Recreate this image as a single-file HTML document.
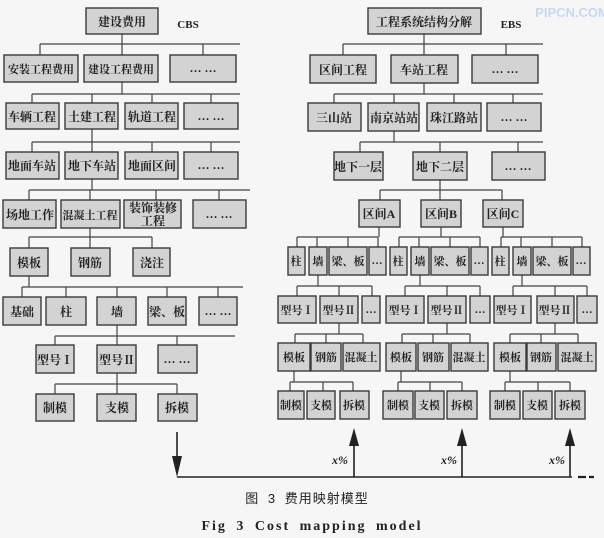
<!DOCTYPE html>
<html><head><meta charset="utf-8"><style>
html,body{margin:0;padding:0;background:#f6f6f6;}
svg{display:block}
.b{fill:#d3d3d3;stroke:#3a3a3a;stroke-width:1.4}
.l{stroke:#444;stroke-width:1.2;fill:none}
text{font-family:"Liberation Serif","Noto Serif CJK SC","Noto Sans CJK SC",serif;font-size:12px;font-weight:bold;fill:#222;text-anchor:middle}
.s text{font-size:11px}
</style></head><body>
<svg width="604" height="538" viewBox="0 0 604 538" xmlns="http://www.w3.org/2000/svg">
<text x="572" y="17" style="font-family:'Liberation Sans',sans-serif;font-size:13px;fill:#c8d8ee">PIPCN.COM</text>
<!-- LEFT CBS -->
<g class="l">
<path d="M122 34V44M40 44H240M40 44V55M122 44V55M203 44V55"/>
<path d="M122 82V94M32 94H240M32 94V103M92 94V103M152 94V103M211 94V103"/>
<path d="M92 129V142M32 142H240M32 142V152M92 142V152M152 142V152M211 142V152"/>
<path d="M92 179V190M29 190H250M29 190V200M90 190V200M156 190V200M219 190V200"/>
<path d="M90 228V237M29 237H152M29 237V248M90 237V248M152 237V248"/>
<path d="M29 276V287M22 287H243M22 287V297M66 287V297M117 287V297M167 287V297M218 287V297"/>
<path d="M117 325V336M55 336H235M55 336V345M117 336V345M177 336V345"/>
<path d="M117 373V384M55 384H177M55 384V394M117 384V394M177 384V394"/>
</g>
<rect class="b" x="86" y="8" width="72" height="26"/><text x="122" y="26">建设费用</text>
<text x="188" y="28" style="font-size:11px">CBS</text>
<g class="s">
<rect class="b" x="4" y="55" width="74" height="27"/><text x="41" y="73">安装工程费用</text>
<rect class="b" x="84" y="55" width="74" height="27"/><text x="121" y="73">建设工程费用</text>
</g>
<rect class="b" x="170" y="55" width="66" height="27"/><text x="203" y="72">… …</text>
<rect class="b" x="6" y="103" width="53" height="26"/><text x="32" y="121">车辆工程</text>
<rect class="b" x="65" y="103" width="53" height="26"/><text x="92" y="121">土建工程</text>
<rect class="b" x="125" y="103" width="53" height="26"/><text x="152" y="121">轨道工程</text>
<rect class="b" x="184" y="103" width="54" height="26"/><text x="211" y="120">… …</text>
<rect class="b" x="6" y="152" width="53" height="27"/><text x="32" y="170">地面车站</text>
<rect class="b" x="65" y="152" width="53" height="27"/><text x="92" y="170">地下车站</text>
<rect class="b" x="125" y="152" width="53" height="27"/><text x="152" y="170">地面区间</text>
<rect class="b" x="184" y="152" width="54" height="27"/><text x="211" y="169">… …</text>
<rect class="b" x="3" y="200" width="53" height="28"/><text x="30" y="219">场地工作</text>
<rect class="b" x="61" y="200" width="59" height="28"/><text x="90" y="219" style="font-size:11px">混凝土工程</text>
<rect class="b" x="124" y="200" width="57" height="28"/><text x="153" y="212">装饰装修</text><text x="153" y="225">工程</text>
<rect class="b" x="193" y="200" width="53" height="28"/><text x="219" y="218">… …</text>
<rect class="b" x="10" y="248" width="38" height="28"/><text x="29" y="267">模板</text>
<rect class="b" x="71" y="248" width="39" height="28"/><text x="90" y="267">钢筋</text>
<rect class="b" x="133" y="248" width="37" height="28"/><text x="152" y="267">浇注</text>
<rect class="b" x="3" y="297" width="38" height="28"/><text x="22" y="316">基础</text>
<rect class="b" x="46" y="297" width="40" height="28"/><text x="66" y="316">柱</text>
<rect class="b" x="97" y="297" width="39" height="28"/><text x="117" y="316">墙</text>
<rect class="b" x="148" y="297" width="38" height="28"/><text x="167" y="316">梁、板</text>
<rect class="b" x="199" y="297" width="38" height="28"/><text x="218" y="315">… …</text>
<rect class="b" x="36" y="345" width="38" height="28"/><text x="55" y="364">型号Ⅰ</text>
<rect class="b" x="97" y="345" width="39" height="28"/><text x="117" y="364">型号Ⅱ</text>
<rect class="b" x="158" y="345" width="39" height="28"/><text x="177" y="363">… …</text>
<rect class="b" x="36" y="394" width="38" height="27"/><text x="55" y="412">制模</text>
<rect class="b" x="97" y="394" width="39" height="27"/><text x="117" y="412">支模</text>
<rect class="b" x="158" y="394" width="39" height="27"/><text x="177" y="412">拆模</text>

<!-- RIGHT EBS -->
<g class="l">
<path d="M424 34V44M343 44H543M343 44V55M424 44V55M506 44V55"/>
<path d="M424 83V94M334 94H543M334 94V103M394 94V103M454 94V103M513 94V103"/>
<path d="M394 131V142M360 142H543M360 142V152M440 142V152M518 142V152"/>
<path d="M440 180V190M380 190H502M380 190V200M440 190V200M502 190V200"/>
<path d="M379 227V237M297 237H378M297 237V247M317 237V247M348 237V247M378 237V247"/>
<path d="M441 227V237M399 237H480M399 237V247M419 237V247M450 237V247M480 237V247"/>
<path d="M503 227V237M501 237H582M501 237V247M521 237V247M552 237V247M582 237V247"/>
<path d="M318 275V286M297 286H372M297 286V296M339 286V296M372 286V296"/>
<path d="M420 275V286M405 286H480M405 286V296M447 286V296M480 286V296"/>
<path d="M522 275V286M513 286H587M513 286V296M555 286V296M587 286V296"/>
<path d="M339 323V334M295 334H363M295 334V343M326 334V343M363 334V343"/>
<path d="M447 323V334M402 334H470M402 334V343M433 334V343M470 334V343"/>
<path d="M555 323V334M510 334H578M510 334V343M541 334V343M578 334V343"/>
<path d="M294 371V382M290 382H353M290 382V391M323 382V391M353 382V391"/>
<path d="M401 371V382M398 382H462M398 382V391M430 382V391M462 382V391"/>
<path d="M510 371V382M505 382H570M505 382V391M538 382V391M570 382V391"/>
</g>
<rect class="b" x="368" y="8" width="113" height="26"/><text x="424" y="26">工程系统结构分解</text>
<text x="511" y="28" style="font-size:11px">EBS</text>
<rect class="b" x="310" y="55" width="66" height="28"/><text x="343" y="74">区间工程</text>
<rect class="b" x="391" y="55" width="67" height="28"/><text x="424" y="74">车站工程</text>
<rect class="b" x="472" y="55" width="66" height="28"/><text x="505" y="73">… …</text>
<rect class="b" x="308" y="103" width="53" height="28"/><text x="334" y="122">三山站</text>
<rect class="b" x="368" y="103" width="51" height="28"/><text x="394" y="122">南京站站</text>
<rect class="b" x="427" y="103" width="54" height="28"/><text x="454" y="122">珠江路站</text>
<rect class="b" x="487" y="103" width="54" height="28"/><text x="514" y="121">… …</text>
<rect class="b" x="334" y="152" width="49" height="28"/><text x="358" y="171">地下一层</text>
<rect class="b" x="413" y="152" width="54" height="28"/><text x="440" y="171">地下二层</text>
<rect class="b" x="492" y="152" width="53" height="28"/><text x="518" y="170">… …</text>
<rect class="b" x="359" y="200" width="41" height="27"/><text x="379" y="218">区间A</text>
<rect class="b" x="421" y="200" width="40" height="27"/><text x="441" y="218">区间B</text>
<rect class="b" x="483" y="200" width="40" height="27"/><text x="503" y="218">区间C</text>
<g class="s">
<rect class="b" x="288" y="247" width="17" height="28"/><text x="296" y="265">柱</text>
<rect class="b" x="309" y="247" width="18" height="28"/><text x="318" y="265">墙</text>
<rect class="b" x="329" y="247" width="38" height="28"/><text x="348" y="265">梁、板</text>
<rect class="b" x="369" y="247" width="17" height="28"/><text x="377" y="264">…</text>
<rect class="b" x="390" y="247" width="17" height="28"/><text x="398" y="265">柱</text>
<rect class="b" x="411" y="247" width="18" height="28"/><text x="420" y="265">墙</text>
<rect class="b" x="431" y="247" width="38" height="28"/><text x="450" y="265">梁、板</text>
<rect class="b" x="471" y="247" width="17" height="28"/><text x="479" y="264">…</text>
<rect class="b" x="492" y="247" width="17" height="28"/><text x="500" y="265">柱</text>
<rect class="b" x="513" y="247" width="18" height="28"/><text x="522" y="265">墙</text>
<rect class="b" x="533" y="247" width="38" height="28"/><text x="552" y="265">梁、板</text>
<rect class="b" x="573" y="247" width="17" height="28"/><text x="581" y="264">…</text>
<rect class="b" x="278" y="296" width="38" height="27"/><text x="297" y="314">型号Ⅰ</text>
<rect class="b" x="320" y="296" width="38" height="27"/><text x="339" y="314">型号Ⅱ</text>
<rect class="b" x="362" y="296" width="18" height="27"/><text x="371" y="313">…</text>
<rect class="b" x="386" y="296" width="38" height="27"/><text x="405" y="314">型号Ⅰ</text>
<rect class="b" x="428" y="296" width="38" height="27"/><text x="447" y="314">型号Ⅱ</text>
<rect class="b" x="470" y="296" width="20" height="27"/><text x="480" y="313">…</text>
<rect class="b" x="494" y="296" width="37" height="27"/><text x="512" y="314">型号Ⅰ</text>
<rect class="b" x="537" y="296" width="37" height="27"/><text x="555" y="314">型号Ⅱ</text>
<rect class="b" x="577" y="296" width="20" height="27"/><text x="587" y="313">…</text>
<rect class="b" x="278" y="343" width="32" height="28"/><text x="294" y="361">模板</text>
<rect class="b" x="311" y="343" width="30" height="28"/><text x="326" y="361">钢筋</text>
<rect class="b" x="343" y="343" width="37" height="28"/><text x="361" y="361">混凝土</text>
<rect class="b" x="386" y="343" width="30" height="28"/><text x="401" y="361">模板</text>
<rect class="b" x="418" y="343" width="31" height="28"/><text x="433" y="361">钢筋</text>
<rect class="b" x="451" y="343" width="37" height="28"/><text x="469" y="361">混凝土</text>
<rect class="b" x="494" y="343" width="32" height="28"/><text x="510" y="361">模板</text>
<rect class="b" x="527" y="343" width="29" height="28"/><text x="541" y="361">钢筋</text>
<rect class="b" x="558" y="343" width="38" height="28"/><text x="577" y="361">混凝土</text>
<rect class="b" x="278" y="391" width="26" height="28"/><text x="291" y="409">制模</text>
<rect class="b" x="307" y="391" width="28" height="28"/><text x="321" y="409">支模</text>
<rect class="b" x="340" y="391" width="29" height="28"/><text x="354" y="409">拆模</text>
<rect class="b" x="383" y="391" width="30" height="28"/><text x="398" y="409">制模</text>
<rect class="b" x="415" y="391" width="29" height="28"/><text x="429" y="409">支模</text>
<rect class="b" x="447" y="391" width="30" height="28"/><text x="462" y="409">拆模</text>
<rect class="b" x="490" y="391" width="30" height="28"/><text x="505" y="409">制模</text>
<rect class="b" x="523" y="391" width="29" height="28"/><text x="537" y="409">支模</text>
<rect class="b" x="555" y="391" width="30" height="28"/><text x="570" y="409">拆模</text>
</g>

<g stroke="#222" stroke-width="1.6" fill="none">
<path d="M177 432V470M177 477H572"/>
<path d="M354 477V440M462 477V440M570 477V440"/>
<path d="M578 477H586M589 477H594" stroke-width="2.2"/>
</g>
<g fill="#222">
<path d="M172 456L182 456L177 477Z"/>
<path d="M349 446L359 446L354 428Z"/>
<path d="M457 446L467 446L462 428Z"/>
<path d="M565 446L575 446L570 428Z"/>
</g>
<g style="font-size:10px;font-style:italic">
<text x="340" y="464">x%</text><text x="449" y="464">x%</text><text x="557" y="464">x%</text>
</g>
<text x="307" y="503" style="font-size:13px;font-weight:normal;font-family:'Liberation Sans','Noto Sans CJK SC',sans-serif;word-spacing:4px;letter-spacing:1px">图 3  费用映射模型</text>
<text x="312" y="530" style="font-size:14px;letter-spacing:2px;word-spacing:4px">Fig  3   Cost mapping model</text>
</svg>
</body></html>
